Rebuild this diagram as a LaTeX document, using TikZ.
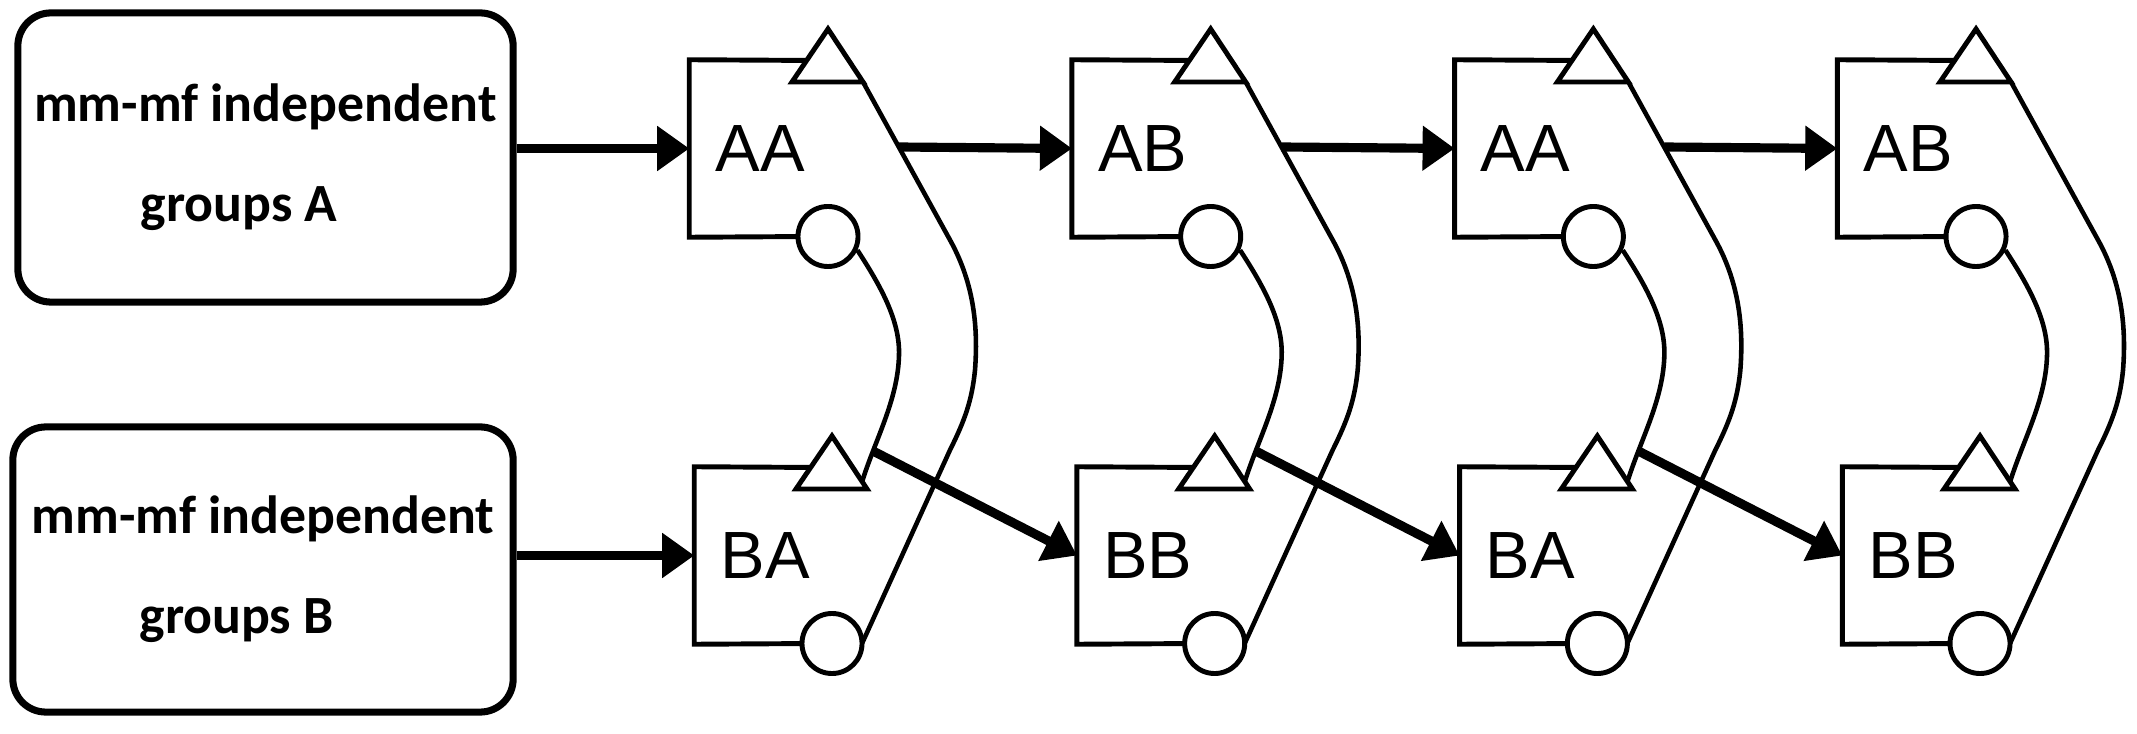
\documentclass[tikz,border=0pt]{standalone}
\usepackage{fontspec}
\newfontfamily\cfont{Carlito}
\newfontfamily\lfont{Liberation Sans}
\usetikzlibrary{arrows.meta}
\begin{document}
\begin{tikzpicture}[x=0.01cm,y=-0.01cm,
  grp/.style={draw, line width=2pt, rounded corners=0.33cm, align=center, inner sep=0pt,
    font=\cfont\bfseries\fontsize{15.3pt}{28.5pt}\selectfont},
  unitbox/.style={minimum width=1.4cm, minimum height=1.76cm, inner sep=0pt,
    font=\lfont\fontsize{19pt}{22pt}\selectfont},
  port/.style={circle, draw, fill=white, line width=1.4pt, minimum size=0.6cm, inner sep=0pt},
  edge/.style={line width=1.4pt},
  curve/.style={line width=1.3pt},
  arr/.style={line width=2.6pt, -{Triangle[length=0.32cm,width=0.43cm]}}]
\useasboundingbox (0,0) rectangle (2137,734);

% source groups
\node[grp, minimum width=4.95cm, minimum height=2.89cm] (gA) at (265.5,157.5)
  {mm-mf independent\\groups A\hspace*{15pt}};
\node[grp, minimum width=5.0cm, minimum height=2.85cm] (gB) at (263,569.5)
  {mm-mf independent\\groups B\hspace*{15pt}};

% four columns of units
\foreach \c/\tl/\bl in {1/AA/BA,2/AB/BB,3/AA/BA,4/AB/BB}{
  \begin{scope}[shift={({382.67*(\c-1)},0)}]
    \node[unitbox] (t\c) at (760,148.5) {\tl};
    \node[unitbox] (b\c) at (765,555.5) {\bl};
    % open box borders
    \draw[edge] (815,60.5) -- (t\c.north west) -- (t\c.south west) -- (810,236.5);
    \draw[edge] (819,467.5) -- (b\c.north west) -- (b\c.south west) -- (815,643.5);
    % curves
    \draw[curve] (863,82) -- (950,240) .. controls (975,285) and (978,330) .. (975,370)
      .. controls (972,400) and (965,420) .. (950,450) -- (862,643.5);
    \node[port] (ct\c) at (828,236.5) {};
    \node[port] (cb\c) at (832,643.5) {};
    \draw[curve] (ct\c.-25) .. controls (880,285) and (900,320) .. (899,355)
      .. controls (898,400) and (875,440) .. (862,482);
    % triangles
    \draw[edge, fill=white] (792,82) -- (828,29) -- (863,82) -- cycle;
    \draw[edge, fill=white] (796,489) -- (832,436) -- (867,489) -- cycle;
    \coordinate (o\c) at (899,147);
    \coordinate (d\c) at (873,451);
  \end{scope}
}

% inputs
\draw[arr] (gA.east |- t1.west) -- (t1.west);
\draw[arr] (gB.east |- b1.west) -- (b1.west);

% links between columns
\foreach \a/\b in {1/2,2/3,3/4}{
  \draw[arr] (o\a) -- (t\b.west);
  \draw[arr] (d\a) -- (b\b.west);
}
\end{tikzpicture}
\end{document}
